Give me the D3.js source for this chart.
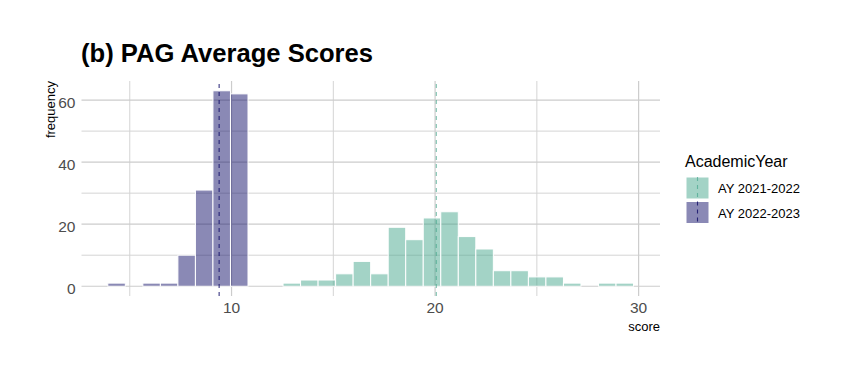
<!doctype html>
<html lang="en">
  <head>
    <meta charset="UTF-8" />
    <title>PAG Average Scores</title>
    <script src="https://cdn.jsdelivr.net/npm/d3@7"></script>
    <style>
      body { margin: 0; background: #fff; }
      svg { font-family: "Liberation Sans", Arial, sans-serif; }
    </style>
  </head>
  <body>
    <div id="graph-wrapper"></div>
    <script>
      // histogram bins (30 bins shared by both years)
      const binStart = 3.92;
      const binWidth = 0.861;
      const years = ["AY 2021-2022", "AY 2022-2023"];
      const counts2122 = [0, 0, 0, 0, 0, 0, 0, 0, 0, 0, 1, 2, 2, 4, 8, 4, 19, 15, 22, 24, 16, 12, 5, 5, 3, 3, 1, 0, 1, 1];
      const counts2223 = [1, 0, 1, 1, 10, 31, 63, 62, 0, 0, 0, 0, 0, 0, 0, 0, 0, 0, 0, 0, 0, 0, 0, 0, 0, 0, 0, 0, 0, 0];
      const means = [20.06, 9.39];
      const xTicks = [10, 20, 30];
      const xMinor = [5, 15, 25];
      const yTicks = [0, 20, 40, 60];
      const yMinor = [10, 30, 50];
      const colors = ["#47A78D", "#15136B"];

      const width = 852;
      const height = 375;
      const marginLeft = 81.5;
      const marginRight = 192;
      const marginTop = 81;
      const marginBottom = 79;

      const x = d3.scaleLinear()
        .domain([2.628, 31.05])
        .range([marginLeft, width - marginRight]);

      const y = d3.scaleLinear()
        .domain([-3.15, 66.15])
        .range([height - marginBottom, marginTop]);

      const svg = d3.select("#graph-wrapper").append("svg")
        .attr("width", width)
        .attr("height", height);

      // grid
      const grid = svg.append("g");
      grid.selectAll(".xminor").data(xMinor).enter().append("line")
        .attr("x1", d => x(d)).attr("x2", d => x(d))
        .attr("y1", y.range()[0]).attr("y2", y.range()[1])
        .attr("stroke", "#d4d4d4").attr("stroke-width", 1);
      grid.selectAll(".yminor").data(yMinor).enter().append("line")
        .attr("y1", d => y(d)).attr("y2", d => y(d))
        .attr("x1", x.range()[0]).attr("x2", x.range()[1])
        .attr("stroke", "#d4d4d4").attr("stroke-width", 1);
      grid.selectAll(".xmajor").data(xTicks).enter().append("line")
        .attr("x1", d => x(d)).attr("x2", d => x(d))
        .attr("y1", y.range()[0]).attr("y2", y.range()[1])
        .attr("stroke", "#cccccc").attr("stroke-width", 1.2);
      grid.selectAll(".ymajor").data(yTicks).enter().append("line")
        .attr("y1", d => y(d)).attr("y2", d => y(d))
        .attr("x1", x.range()[0]).attr("x2", x.range()[1])
        .attr("stroke", "#cccccc").attr("stroke-width", 1.2);

      // stacked bars, first level on top
      const series = [counts2122, counts2223];
      const bars = [];
      counts2122.forEach((_, i) => {
        let base = 0;
        for (let s = series.length - 1; s >= 0; s--) {
          const c = series[s][i];
          bars.push({ s, i, y0: base, y1: base + c });
          base += c;
        }
      });

      svg.append("g").selectAll("rect")
        .data(bars)
        .enter()
        .append("rect")
        .attr("x", d => x(binStart + d.i * binWidth))
        .attr("width", d => x(binStart + (d.i + 1) * binWidth) - x(binStart + d.i * binWidth))
        .attr("y", d => y(d.y1))
        .attr("height", d => y(d.y0) - y(d.y1))
        .attr("fill", d => colors[d.s])
        .attr("fill-opacity", 0.5)
        .attr("stroke", "#fff")
        .attr("stroke-width", 1);

      // mean lines
      svg.append("g").selectAll("line")
        .data(means)
        .enter()
        .append("line")
        .attr("x1", d => x(d)).attr("x2", d => x(d))
        .attr("y1", y.range()[0]).attr("y2", y.range()[1])
        .attr("stroke", (d, i) => colors[i])
        .attr("stroke-opacity", (d, i) => i === 0 ? 0.7 : 0.85)
        .attr("stroke-width", 1.1)
        .attr("stroke-dasharray", "4,4");

      // tick labels
      svg.append("g").selectAll("text")
        .data(xTicks)
        .enter()
        .append("text")
        .attr("x", d => x(d))
        .attr("y", 313)
        .attr("text-anchor", "middle")
        .attr("font-size", 15.5)
        .attr("fill", "#4d4d4d")
        .text(d => d);

      svg.append("g").selectAll("text")
        .data(yTicks)
        .enter()
        .append("text")
        .attr("x", 75.5)
        .attr("y", d => y(d) + 7.5)
        .attr("text-anchor", "end")
        .attr("font-size", 15.5)
        .attr("fill", "#4d4d4d")
        .text(d => d);

      // axis titles
      svg.append("text")
        .attr("x", x.range()[1])
        .attr("y", 331)
        .attr("text-anchor", "end")
        .attr("font-size", 13)
        .text("score");

      svg.append("text")
        .attr("transform", `translate(55,${marginTop}) rotate(-90)`)
        .attr("text-anchor", "end")
        .attr("font-size", 13)
        .text("frequency");

      // title
      svg.append("text")
        .attr("x", 81)
        .attr("y", 62)
        .attr("font-size", 25.6)
        .attr("font-weight", "bold")
        .text("(b) PAG Average Scores");

      // legend
      const legend = svg.append("g").attr("transform", "translate(686,0)");
      legend.append("text")
        .attr("x", -1)
        .attr("y", 167)
        .attr("font-size", 16)
        .text("AcademicYear");

      const keys = legend.selectAll(".key")
        .data(years)
        .enter()
        .append("g")
        .attr("transform", (d, i) => `translate(0,${177 + i * 24.5})`);

      keys.append("rect")
        .attr("width", 23)
        .attr("height", 22)
        .attr("fill", (d, i) => colors[i])
        .attr("fill-opacity", 0.5)
        .attr("stroke", "#fff")
        .attr("stroke-width", 1);

      keys.append("line")
        .attr("x1", 11.5).attr("x2", 11.5)
        .attr("y1", 0).attr("y2", 22)
        .attr("stroke", (d, i) => colors[i])
        .attr("stroke-opacity", (d, i) => i === 0 ? 0.7 : 0.85)
        .attr("stroke-width", 1.1)
        .attr("stroke-dasharray", "4,4");

      keys.append("text")
        .attr("x", 32)
        .attr("y", 16)
        .attr("font-size", 13)
        .text(d => d);
    </script>
  </body>
</html>
